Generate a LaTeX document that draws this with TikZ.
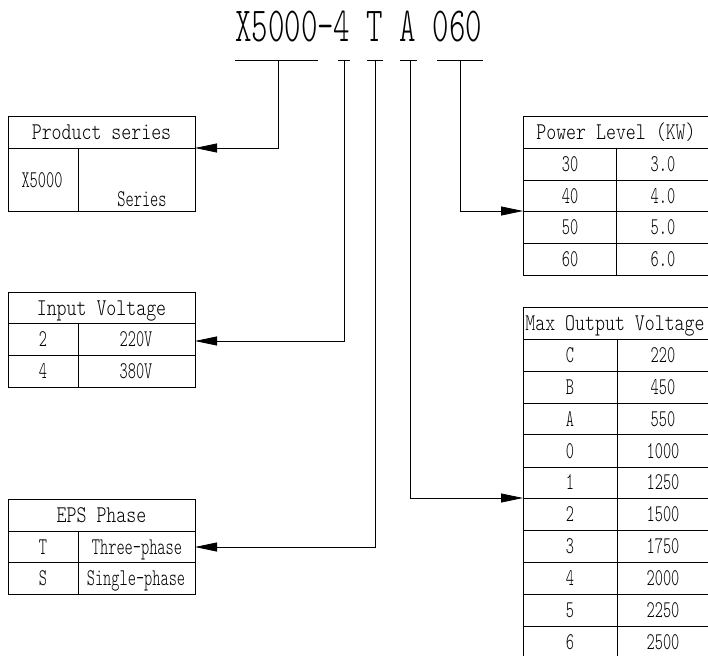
\documentclass[tikz,border=0pt]{standalone}
\usepackage{fontspec}
\usetikzlibrary{arrows.meta}
\newfontfamily\titlefont{lmmonolt10-regular.otf}[FakeStretch=0.64]
\newfontfamily\hdrfont{lmmonolt10-regular.otf}[FakeStretch=0.79]
\newfontfamily\cellfont{lmmonolt10-regular.otf}[FakeStretch=0.65]
\tikzset{
  ttl/.style={font=\titlefont\fontsize{49}{50}\selectfont, inner sep=0pt, anchor=base west},
  hdr/.style={font=\hdrfont\fontsize{24}{25}\selectfont, inner sep=0pt, anchor=base},
  cell/.style={font=\cellfont\fontsize{24}{25}\selectfont, inner sep=0pt, anchor=base},
  tbl/.style={line width=0.9pt},
  under/.style={line width=0.8pt},
  conn/.style={line width=0.8pt, -{Triangle[length=22pt,width=9pt]}}
}
\begin{document}
\begin{tikzpicture}[x=1pt,y=-1pt]
\useasboundingbox (0,0) rectangle (708,655);
% title
\node[ttl] (title) at (235,42) {X5000-4 T A 060};
\draw[under] (235,60) -- (318,60);
\draw[under] (338,60) -- (350,60);
\draw[under] (367,60) -- (383,60);
\draw[under] (400,60) -- (417,60);
\draw[under] (437,60) -- (483,60);
\coordinate (t1) at (278,60);
\coordinate (t2) at (344,60);
\coordinate (t3) at (375,60);
\coordinate (t4) at (410,60);
\coordinate (t5) at (460,60);
% Product series
\draw[tbl] (8,116) rectangle (195,211);
\draw[tbl] (8,148) -- (195,148);
\draw[tbl] (78,148) -- (78,211);
\node[hdr] (psh) at (101.5,139.5) {Product series};
\node[cell] (ps1) at (42,187) {X5000};
\node[cell] (ps2) at (142,206) {Series};
\coordinate (psin) at (195,148);
% Input Voltage
\draw[tbl] (8,292) rectangle (195,387);
\draw[tbl] (8,323) -- (195,323);
\draw[tbl] (8,355) -- (195,355);
\draw[tbl] (78,323) -- (78,387);
\node[hdr] (ivh) at (101.5,315) {Input Voltage};
\node[cell] (iv1a) at (43,346.5) {2};
\node[cell] (iv1b) at (136,346.5) {220V};
\node[cell] (iv2a) at (43,378.5) {4};
\node[cell] (iv2b) at (136,378.5) {380V};
\coordinate (ivin) at (195,341);
% EPS Phase
\draw[tbl] (8,499) rectangle (195,594);
\draw[tbl] (8,531) -- (195,531);
\draw[tbl] (8,562) -- (195,562);
\draw[tbl] (78,531) -- (78,594);
\node[hdr] (eph) at (101.5,522.5) {EPS Phase};
\node[cell] (ep1a) at (43,554) {T};
\node[cell] (ep1b) at (137,554) {Three-phase};
\node[cell] (ep2a) at (43,585.5) {S};
\node[cell] (ep2b) at (136,585.5) {Single-phase};
\coordinate (epin) at (195,547);
% Power Level
\draw[tbl] (523,116) rectangle (709,275);
\foreach \yy in {148,180,211,243} \draw[tbl] (523,\yy) -- (709,\yy);
\draw[tbl] (616,148) -- (616,275);
\node[hdr] (plh) at (616,139.5) {Power Level (KW)};
\node[cell] (pl1a) at (570,171.5) {30};
\node[cell] (pl1b) at (663,171.5) {3.0};
\node[cell] (pl2a) at (570,203) {40};
\node[cell] (pl2b) at (663,203) {4.0};
\node[cell] (pl3a) at (570,234.5) {50};
\node[cell] (pl3b) at (663,234.5) {5.0};
\node[cell] (pl4a) at (570,266.5) {60};
\node[cell] (pl4b) at (663,266.5) {6.0};
\coordinate (plin) at (523,211);
% Max Output Voltage
\draw[tbl] (523,307) rectangle (709,658);
\foreach \yy in {339,371,403,434,467,498,530,562,594,626} \draw[tbl] (523,\yy) -- (709,\yy);
\draw[tbl] (617,339) -- (617,658);
\node[hdr] (mvh) at (615,330.5) {Max Output Voltage};
\node[cell] (mv1a) at (570,362.5) {C};   \node[cell] (mv1b) at (663,362.5) {220};
\node[cell] (mv2a) at (570,394.5) {B};   \node[cell] (mv2b) at (663,394.5) {450};
\node[cell] (mv3a) at (570,426) {A};   \node[cell] (mv3b) at (663,426) {550};
\node[cell] (mv4a) at (570,458) {0};   \node[cell] (mv4b) at (663,458) {1000};
\node[cell] (mv5a) at (570,489.5) {1};   \node[cell] (mv5b) at (663,489.5) {1250};
\node[cell] (mv6a) at (570,521.5) {2};   \node[cell] (mv6b) at (663,521.5) {1500};
\node[cell] (mv7a) at (570,553.5) {3};   \node[cell] (mv7b) at (663,553.5) {1750};
\node[cell] (mv8a) at (570,585.5) {4};   \node[cell] (mv8b) at (663,585.5) {2000};
\node[cell] (mv9a) at (570,617.5) {5};   \node[cell] (mv9b) at (663,617.5) {2250};
\node[cell] (mv10a) at (570,649.5) {6};  \node[cell] (mv10b) at (663,649.5) {2500};
\coordinate (mvin) at (523,498);
% connectors
\draw[conn] (t1) |- (psin);
\draw[conn] (t2) |- (ivin);
\draw[conn] (t3) |- (epin);
\draw[conn] (t4) |- (mvin);
\draw[conn] (t5) |- (plin);
\end{tikzpicture}
\end{document}
